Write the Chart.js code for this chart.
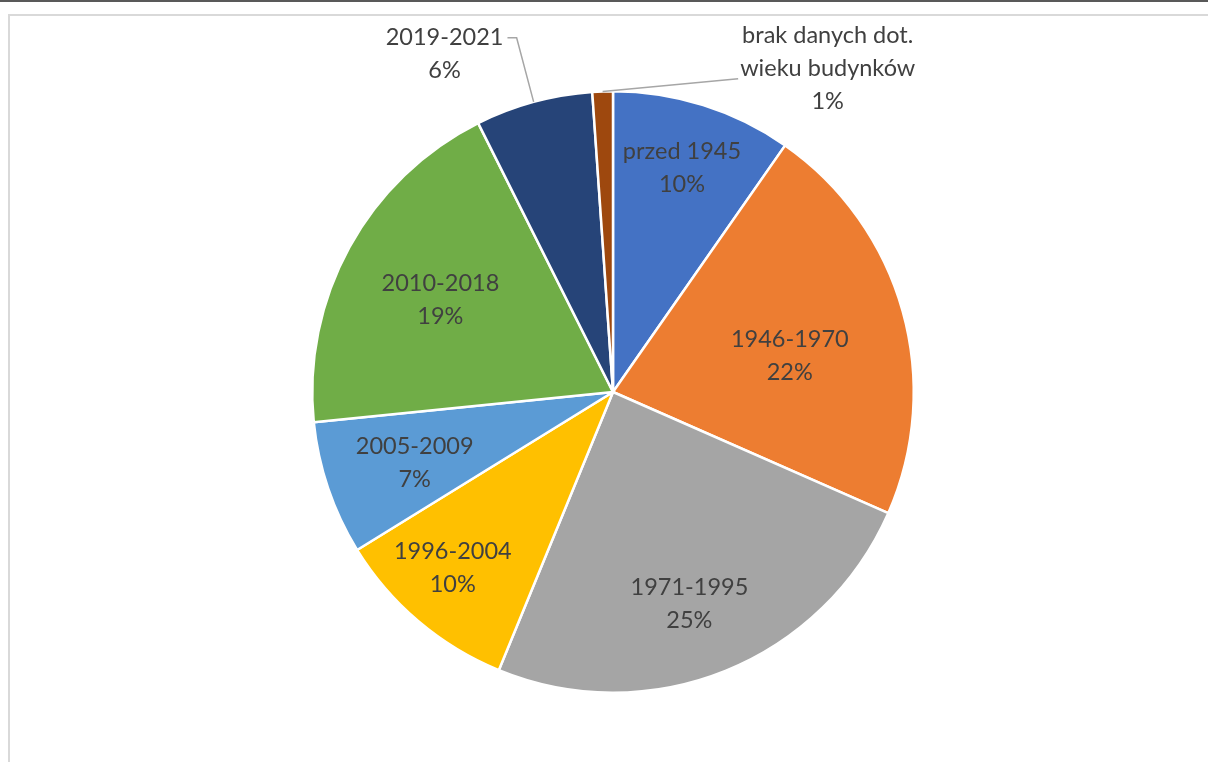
<!DOCTYPE html>
<html>
<head>
<meta charset="utf-8">
<script src="https://cdn.jsdelivr.net/npm/chart.js@4"></script>
<style>
  body { margin: 0; background: #fff; overflow: hidden; }
  #topLine { position: absolute; left: 0; top: 0; width: 1208px; height: 2px; background: #595959; }
  #frame { position: absolute; left: 8px; top: 14px; width: 1300px; height: 800px; border: 2px solid #d9d9d9; }
  #wrap { position: absolute; left: 0; top: 0; width: 1208px; height: 762px; }
</style>
</head>
<body>
<div id="topLine"></div>
<div id="frame"></div>
<div id="wrap"><canvas id="chart"></canvas></div>
<script>
// categories (label lines) and shares
const categories = [
  ['przed 1945'],
  ['1946-1970'],
  ['1971-1995'],
  ['1996-2004'],
  ['2005-2009'],
  ['2010-2018'],
  ['2019-2021'],
  ['brak danych dot.', 'wieku budynków']
];
const shares = [9.7, 21.9, 24.6, 10.0, 7.2, 19.2, 6.3, 1.1];
const colors = ['#4472C4', '#ED7D31', '#A5A5A5', '#FFC000', '#5B9BD5', '#70AD47', '#264478', '#9E480E'];

// label anchors: [angle from top in degrees, distance as fraction of radius]
const labelAnchors = [[17.1, 0.78], [78.4, 0.60], [160.2, 0.75], [222.4, 0.79],
                      [250.4, 0.70], [298, 0.65], [333.5, 1.255], [33.6, 1.29]];

const pieLabels = {
  id: 'pieLabels',
  afterDatasetsDraw(chart) {
    const ctx = chart.ctx;
    const meta = chart.getDatasetMeta(0);
    const total = shares.reduce((a, b) => a + b, 0);
    ctx.save();
    ctx.font = '23.5px Lato, "Open Sans", sans-serif';
    ctx.fillStyle = '#404040';
    ctx.textAlign = 'center';
    ctx.textBaseline = 'middle';
    const lh = 33;
    meta.data.forEach((arc, i) => {
      const cx = arc.x, cy = arc.y, r = arc.outerRadius;
      const a = labelAnchors[i][0] * Math.PI / 180;
      const lx = cx + Math.sin(a) * r * labelAnchors[i][1];
      const ly = cy - Math.cos(a) * r * labelAnchors[i][1];
      const lines = categories[i].concat([Math.round(shares[i] / total * 100) + '%']);
      const y0 = ly - (lines.length - 1) * lh / 2;
      lines.forEach((t, k) => ctx.fillText(t, lx, y0 + k * lh));
      if (labelAnchors[i][1] > 1) {
        // leader line from the middle of the slice edge
        const mid = (arc.startAngle + arc.endAngle) / 2;
        const ex = cx + Math.cos(mid) * r, ey = cy + Math.sin(mid) * r;
        ctx.strokeStyle = '#a6a6a6';
        ctx.lineWidth = 1.5;
        ctx.beginPath();
        ctx.moveTo(ex, ey);
        if (lx < cx) {
          const w = ctx.measureText(lines[0]).width;
          ctx.lineTo(ex - 17, y0);
          ctx.lineTo(lx + w / 2 + 4, y0);
        } else {
          const w = ctx.measureText(lines[1]).width;
          ctx.lineTo(lx - w / 2 - 2, ly + 10);
        }
        ctx.stroke();
      }
    });
    ctx.restore();
  }
};

new Chart(document.getElementById('chart'), {
  type: 'pie',
  data: {
    labels: categories.map(c => c.join(' ')),
    datasets: [{
      data: shares,
      backgroundColor: colors,
      borderColor: '#ffffff',
      borderWidth: 2.5
    }]
  },
  options: {
    responsive: true,
    maintainAspectRatio: false,
    animation: false,
    layout: { padding: { top: 90, bottom: 68, left: 311, right: 293 } },
    plugins: {
      legend: { display: false },
      tooltip: { enabled: false }
    }
  },
  plugins: [pieLabels]
});
</script>
</body>
</html>
